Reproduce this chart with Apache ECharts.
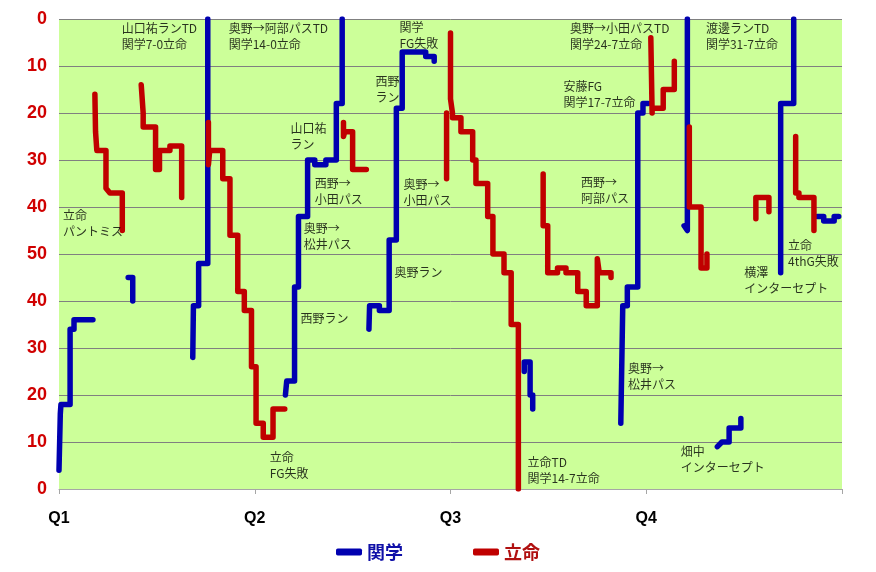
<!DOCTYPE html>
<html><head><meta charset="utf-8">
<script src="https://cdn.jsdelivr.net/npm/echarts@6/dist/echarts.min.js"></script>
<style>html,body{margin:0;padding:0;background:#fff}#c{width:876px;height:572px}</style>
</head><body><div id="c"></div>
<script>
// Quarter tick labels (x = game minutes, Q1 starts at 0)
const quarterLabels = ['Q1', 'Q2', 'Q3', 'Q4'];
// Yard-line tick labels (y = field position 0..100)
const yardLabels = [0, 10, 20, 30, 40, 50, 40, 30, 20, 10, 0];
const seriesNames = ['関学', '立命'];

// 関学 drives: [minute, position]
const kgDrives = [
  [[0,4],[0.1,16],[0.15,18],[0.85,18],[0.85,34],[1.15,34],[1.15,36],[2.6,36]],
  [[5.3,45],[5.65,45],[5.65,40]],
  [[10.25,28],[10.3,39],[10.7,39],[10.7,48],[11.4,48],[11.4,100]],
  [[17.35,20],[17.45,23],[18.05,23],[18.05,43],[18.35,43],[18.35,58],[19.05,58],[19.05,70],[19.6,70],[19.6,69],[20.45,69],[20.45,70],[21.25,70],[21.25,82],[21.7,82],[21.7,100]],
  [[23.75,34],[23.8,39],[24.55,39],[24.55,38],[25.3,38],[25.3,53],[25.85,53],[25.85,81],[26.3,81],[26.3,93],[28.1,93],[28.1,92],[28.75,92],[28.75,91]],
  [[35.65,25],[35.65,27],[36.1,27],[36.1,20],[36.3,20],[36.3,17]],
  [[43.05,14],[43.2,39],[43.55,39],[43.55,43],[44.35,43],[44.35,80],[44.75,80],[44.75,82],[45.15,82]],
  [[47.9,56],[48.15,55],[48.15,100]],
  [[50.45,9],[50.8,10],[51.35,10],[51.35,13],[52.25,13],[52.25,15]],
  [[55.3,46],[55.3,82],[56.3,82],[56.3,100]],
  [[58.1,58],[58.6,58],[58.6,57],[59.4,57],[59.4,58],[59.75,58]]
];

// 立命 drives: [minute, position]
const rmDrives = [
  [[2.75,84],[2.8,76],[2.9,72],[3.6,72],[3.6,64],[3.9,63],[4.85,63],[4.85,55]],
  [[6.3,86],[6.45,80],[6.45,77],[7.4,77],[7.4,68],[7.7,68],[7.7,72],[8.5,72],[8.5,73],[9.4,73],[9.4,62]],
  [[11.45,78],[11.45,69],[11.55,72],[12.55,72],[12.55,66],[13.1,66],[13.1,54],[13.7,54],[13.7,42],[14.2,42],[14.2,38],[14.75,38],[14.75,26],[15.1,26],[15.1,14],[15.65,14],[15.65,11],[16.4,11],[16.4,17],[17.3,17]],
  [[21.8,78],[21.8,75],[21.9,76],[22.5,76],[22.5,68],[23.55,68]],
  [[29.7,80],[29.7,66]],
  [[30.0,97],[30.0,83],[30.15,80],[30.15,79],[30.8,79],[30.8,76],[31.7,76],[31.7,70],[31.95,70],[31.95,65],[32.85,65],[32.85,58],[33.25,58],[33.25,50],[34.1,50],[34.1,46],[34.65,46],[34.65,35],[35.2,35],[35.2,0]],
  [[37.1,67],[37.1,56],[37.45,56],[37.45,46],[38.2,46],[38.2,47],[38.85,47],[38.85,46],[39.75,46],[39.75,42],[40.4,42],[40.4,39],[41.25,39],[41.25,49],[41.4,46],[42.3,46],[42.3,45]],
  [[45.35,96],[45.45,80],[45.45,81],[46.3,81],[46.3,85],[47.15,85],[47.15,91]],
  [[48.3,77],[48.3,60],[49.2,60],[49.2,47],[49.65,47],[49.65,50]],
  [[53.4,57.5],[53.4,62],[54.4,62],[54.4,59]],
  [[56.45,75],[56.45,63],[56.7,63],[56.7,62],[57.85,62],[57.85,55]]
];

// Play annotations: [minute, position (top of text), text]
const notes = [
  [4.8, 99.8, '山口祐ランTD\n関学7-0立命'],
  [13.0, 99.8, '奥野→阿部パスTD\n関学14-0立命'],
  [26.1, 100, '関学\nFG失敗'],
  [39.16, 99.8, '奥野→小田パスTD\n関学24-7立命'],
  [49.57, 99.8, '渡邊ランTD\n関学31-7立命'],
  [24.26, 88.5, '西野\nラン'],
  [38.65, 87.4, '安藤FG\n関学17-7立命'],
  [17.73, 78.5, '山口祐\nラン'],
  [19.59, 66.8, '西野→\n小田パス'],
  [26.4, 66.6, '奥野→\n小田パス'],
  [40.0, 67, '西野→\n阿部パス'],
  [0.3, 60, '立命\nパントミス'],
  [18.75, 57.2, '奥野→\n松井パス'],
  [25.7, 47.7, '奥野ラン'],
  [18.5, 37.9, '西野ラン'],
  [43.6, 27.4, '奥野→\n松井パス'],
  [16.15, 8.5, '立命\nFG失敗'],
  [35.9, 7.4, '立命TD\n関学14-7立命'],
  [47.65, 9.6, '畑中\nインターセプト'],
  [52.5, 47.7, '横澤\nインターセプト'],
  [55.87, 53.6, '立命\n4thG失敗']
];

const BLUE = '#0000b0';
const RED = '#c00000';
const CJK = '"Noto Sans CJK JP", "Noto Sans", sans-serif';

const series = [];
function addDrives(drives, name, color) {
  drives.forEach(d => series.push({
    name: name, type: 'line', data: d, symbol: 'none', showSymbol: false,
    silent: true, animation: false, z: name === '立命' ? 3 : 2,
    itemStyle: { color: color },
    lineStyle: { color: color, width: 5.5, cap: 'round', join: 'round' }
  }));
}
addDrives(kgDrives, seriesNames[0], BLUE);
addDrives(rmDrives, seriesNames[1], RED);
series.push({
  name: 'notes', type: 'scatter', symbolSize: 0, silent: true, animation: false, z: 5,
  data: notes.map(n => ({ value: [n[0], n[1]], text: n[2] })),
  label: {
    show: true, position: [0, 0], align: 'left', verticalAlign: 'top',
    formatter: p => p.data.text,
    fontFamily: CJK, fontSize: 12, lineHeight: 16, color: '#000'
  }
});

const chart = echarts.init(document.getElementById('c'), null, { renderer: 'canvas' });
chart.setOption({
  animation: false,
  backgroundColor: '#ffffff',
  grid: { left: 59, right: 34, top: 19, bottom: 83, show: true, backgroundColor: '#ccff99', borderWidth: 0 },
  xAxis: {
    type: 'value', min: 0, max: 60, interval: 15,
    axisLine: { show: true, lineStyle: { color: '#a6a6a6', width: 1 } },
    axisTick: { show: true, length: 5, lineStyle: { color: '#a6a6a6' } },
    splitLine: { show: false },
    axisLabel: {
      margin: 22, color: '#000', fontSize: 16, fontWeight: 'bold', fontFamily: 'Arial, "Liberation Sans", sans-serif',
      formatter: v => quarterLabels[Math.round(v / 15)] || ''
    }
  },
  yAxis: {
    type: 'value', min: 0, max: 100, interval: 10,
    axisLine: { show: false }, axisTick: { show: false },
    splitLine: { show: true, lineStyle: { color: '#808080', width: 1 } },
    axisLabel: {
      margin: 12, color: '#d00000', fontSize: 18, fontWeight: 'bold', fontFamily: 'Arial, "Liberation Sans", sans-serif',
      formatter: v => String(yardLabels[Math.round(v / 10)])
    }
  },
  legend: {
    top: 538, left: 'center', icon: 'roundRect', itemWidth: 26, itemHeight: 7, itemGap: 70,
    textStyle: { fontSize: 18, fontWeight: 'bold', fontFamily: CJK },
    data: [
      { name: seriesNames[0], textStyle: { color: '#1010a8' } },
      { name: seriesNames[1], textStyle: { color: '#b01010' } }
    ]
  },
  series: series
});
</script></body></html>
